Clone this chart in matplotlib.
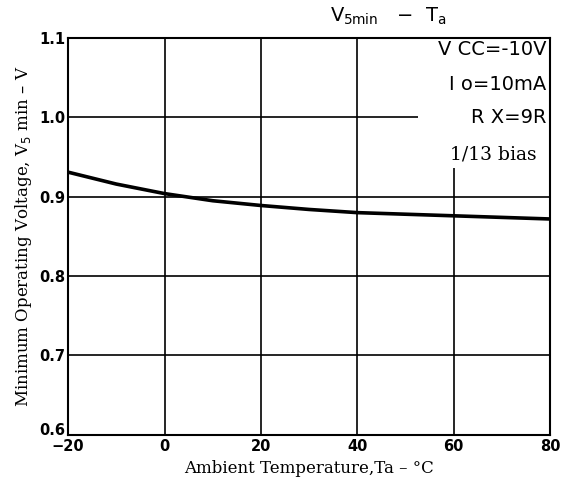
import matplotlib
matplotlib.use("Agg")
import matplotlib.pyplot as plt
import matplotlib.transforms as mtransforms

temps = [-20, -10, 0, 10, 20, 30, 40, 50, 60, 70, 80]
v5min = [0.931, 0.916, 0.904, 0.895, 0.889, 0.884, 0.880, 0.878, 0.876, 0.874, 0.872]
xticks = [-20, 0, 20, 40, 60, 80]
yticks = [0.6, 0.7, 0.8, 0.9, 1.0, 1.1]
ytick_labels = ["0.6", "0.7", "0.8", "0.9", "1.0", "1.1"]
notes = ["V CC=-10V", "I o=10mA", "R X=9R", "1/13 bias"]

fig = plt.figure(figsize=(5.63, 4.88), dpi=100)
ax = fig.add_axes([0.121, 0.109, 0.856, 0.813])
ax.set_xlim(-20, 80)
ax.set_ylim(0.6, 1.1)
ax.set_xticks(xticks)
ax.set_yticks(yticks)
ax.set_yticklabels(ytick_labels)
ax.grid(True, color="black", linewidth=1.2)
ax.tick_params(length=0, labelsize=10.5)
ax.tick_params(axis="x", pad=3)
ax.tick_params(axis="y", pad=2)
for lab in ax.get_xticklabels() + ax.get_yticklabels():
    lab.set_fontweight("bold")
# nudge lowest y label up a little (as in the reference)
first = ax.get_yticklabels()[0]
first.set_transform(first.get_transform() +
                    mtransforms.ScaledTranslation(0, 4 / 72, fig.dpi_scale_trans))
for s in ax.spines.values():
    s.set_linewidth(1.5)
ax.plot(temps, v5min, color="black", linewidth=2.6, zorder=3)

# white panel for notes (beneath spines)
ax.fill_between([52.5, 80], 0.936, 1.1, color="white", zorder=2.2, linewidth=0)
ypos = [1.085, 1.042, 1.0, 0.953]
xpos = [79.2, 79.2, 79.2, 77.3]
fams = [["DejaVu Sans"]] * 3 + [["DejaVu Serif"]]
sizes = [14, 14, 14, 13.5]
for t, x, y, f, fs in zip(notes, xpos, ypos, fams, sizes):
    ax.text(x, y, t, ha="right", va="center", fontsize=fs, family=f, zorder=4)

fig.text(0.69, 0.967, r"V$_{\mathrm{5min}}$   $-$  T$_{\mathrm{a}}$", ha="center",
         va="center", fontsize=14)
ax.set_xlabel("Ambient Temperature,Ta \u2013 \u00b0C", family="DejaVu Serif",
              fontsize=12, labelpad=4)
ax.set_ylabel("Minimum Operating Voltage, V$_5$ min \u2013 V", family="DejaVu Serif",
              fontsize=12, labelpad=4)

fig.savefig("out.png", dpi=100)
